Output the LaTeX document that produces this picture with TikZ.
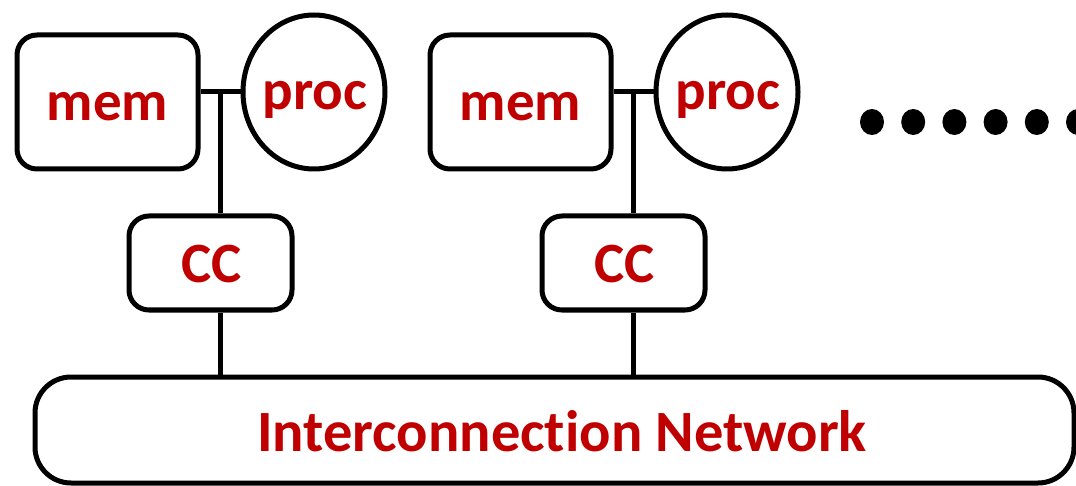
\documentclass[tikz,border=0pt]{standalone}
\usepackage{fontspec}
\setmainfont{Carlito}[Ligatures=CommonOff]
\definecolor{labelred}{HTML}{C00000}
\usetikzlibrary{shapes.geometric}
\tikzset{
  lbl/.style={text=labelred, font=\bfseries\fontsize{57}{60}\selectfont,
    anchor=base, inner sep=0pt},
  biglbl/.style={lbl, font=\bfseries\fontsize{58.5}{62}\selectfont},
  outline/.style={draw, line width=5pt, inner sep=0pt},
  membox/.style={outline, rounded corners=20pt,
    minimum width=181pt, minimum height=134pt},
  procnode/.style={outline, ellipse,
    minimum width=142pt, minimum height=154pt},
  ccbox/.style={outline, rounded corners=20pt,
    minimum width=163pt, minimum height=94pt},
  netbox/.style={outline, rounded corners=36pt,
    minimum width=1039pt, minimum height=106pt},
  wire/.style={line width=5pt},
  dot/.style={fill=black, ellipse, inner sep=0pt, minimum width=24pt, minimum height=26pt}
}
\begin{document}
\begin{tikzpicture}[x=1pt, y=-1pt]
  \useasboundingbox (0,0) rectangle (1076,486);
  \clip (0,0) rectangle (1076,486);

  % interconnection network
  \node[netbox] (net) at (554.5,430) {};
  \node[biglbl] (netlabel) at (562,451) {Interconnection Network};

  % first node: memory, processor, cache controller
  \node[membox] (mem1) at (107.5,102) {};
  \node[lbl] (mem1text) at (107.5,121) {mem};
  \node[procnode] (proc1) at (314,92) {};
  \node[lbl] (proc1text) at (315,110) {proc};
  \node[ccbox] (cc1) at (210.5,263) {};
  \node[lbl] (cc1text) at (212,283) {CC};
  \coordinate (j1) at (220,92);
  \draw[wire] (proc1.west) -- (proc1.west -| mem1.east);
  \draw[wire] (j1) -- (j1 |- cc1.north);
  \draw[wire] (j1 |- cc1.south) -- (j1 |- net.north);

  % second node
  \node[membox] (mem2) at (520.5,102) {};
  \node[lbl] (mem2text) at (520.5,121) {mem};
  \node[procnode] (proc2) at (727,92) {};
  \node[lbl] (proc2text) at (728,110) {proc};
  \node[ccbox] (cc2) at (623.5,263) {};
  \node[lbl] (cc2text) at (625,283) {CC};
  \coordinate (j2) at (633,92);
  \draw[wire] (proc2.west) -- (proc2.west -| mem2.east);
  \draw[wire] (j2) -- (j2 |- cc2.north);
  \draw[wire] (j2 |- cc2.south) -- (j2 |- net.north);

  % ellipsis dots
  \foreach \i in {0,...,5} {
    \node[dot] (d\i) at ({872+41.2*\i},122) {};
  }
\end{tikzpicture}
\end{document}
